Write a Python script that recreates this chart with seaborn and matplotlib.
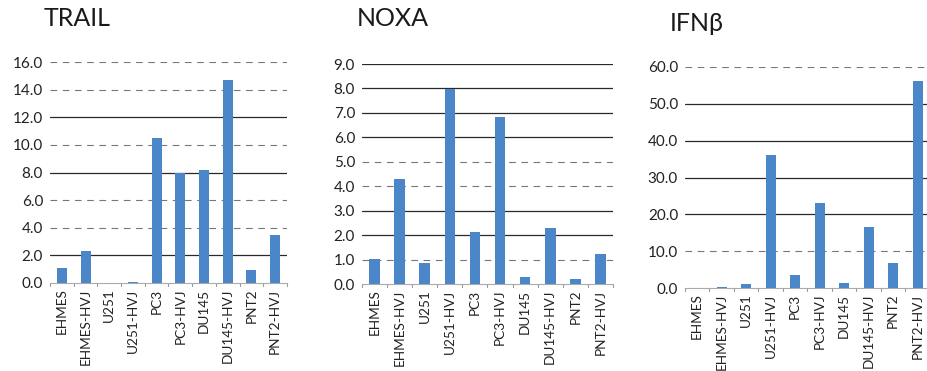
import matplotlib
matplotlib.use("Agg")
import matplotlib.pyplot as plt
import seaborn as sns
import pandas as pd

cell_lines = ["EHMES", "EHMES-HVJ", "U251", "U251-HVJ", "PC3", "PC3-HVJ",
              "DU145", "DU145-HVJ", "PNT2", "PNT2-HVJ"]

trail = [1.05, 2.35, 0.03, 0.06, 10.5, 7.95, 8.15, 14.7, 0.92, 3.45]
noxa = [1.02, 4.3, 0.86, 7.98, 2.13, 6.83, 0.29, 2.29, 0.2, 1.23]
ifnb = [0.1, 0.15, 1.1, 36.1, 3.4, 23.0, 1.4, 16.6, 6.8, 56.2]

trail_ticks = [0, 2, 4, 6, 8, 10, 12, 14, 16]
noxa_ticks = [0, 1, 2, 3, 4, 5, 6, 7, 8, 9]
ifnb_ticks = [0, 10, 20, 30, 40, 50, 60]

# gridlines that print dark vs. faint
trail_strong = [12, 8, 2]
noxa_strong = [9, 8, 7, 6, 3, 2]
ifnb_strong = [50, 40, 30, 20]

sns.set_theme(style="white")
plt.rcParams["font.family"] = ["Lato", "DejaVu Sans"]

W, H = 928, 371
fig = plt.figure(figsize=(W / 100, H / 100), dpi=100)
bar_color = "#4a86c8"

panels = [
    ("TRAIL", trail, trail_ticks, trail_strong, (50, 287, 62, 283), (44, 7)),
    ("NOXA", noxa, noxa_ticks, noxa_strong, (362, 613, 64, 284), (357, 7)),
    ("IFNβ", ifnb, ifnb_ticks, ifnb_strong, (685, 930, 67, 288), (670, 12)),
]

for title, vals, ticks, strong, (x0, x1, ytop, ybot), (tx, ty) in panels:
    ax = fig.add_axes([x0 / W, 1 - ybot / H, (x1 - x0) / W, (ybot - ytop) / H])
    df = pd.DataFrame({"cell": cell_lines, "value": vals})
    sns.barplot(data=df, x="cell", y="value", ax=ax, color=bar_color,
                width=0.42, saturation=1, edgecolor="none")
    ax.set_ylim(0, ticks[-1])
    ax.set_xlim(-0.5, len(cell_lines) - 0.5)
    ax.set_yticks(ticks)
    ax.set_yticklabels([f"{t:.1f}" for t in ticks], fontsize=11, color="#222222")
    ax.set_xticks(range(len(cell_lines)))
    ax.set_xticklabels(cell_lines, rotation=90, fontsize=9.8, color="#222222")
    ax.tick_params(axis="x", length=0, pad=4)
    ax.tick_params(axis="y", length=0, pad=5)
    ax.set_xlabel("")
    ax.set_ylabel("")
    for t in ticks[1:]:
        if t in strong:
            ax.axhline(t, color="#2a2a2a", lw=0.9, zorder=0)
        else:
            ax.axhline(t, color="#777777", lw=0.8, ls=(0, (6, 5)), zorder=0)
    for s in ["top", "right", "left"]:
        ax.spines[s].set_visible(False)
    ax.spines["bottom"].set_color("#aaaaaa")
    ax.spines["bottom"].set_linewidth(0.8)
    # small separators between categories
    for k in range(len(cell_lines) + 1):
        ax.plot([k - 0.5, k - 0.5], [0, -ticks[-1] * 0.012], color="#999999",
                lw=0.8, clip_on=False)
    fig.text(tx / W, 1 - ty / H, title, fontsize=18, va="top", ha="left",
             color="#1a1a1a")

fig.savefig("out.png", dpi=100)
